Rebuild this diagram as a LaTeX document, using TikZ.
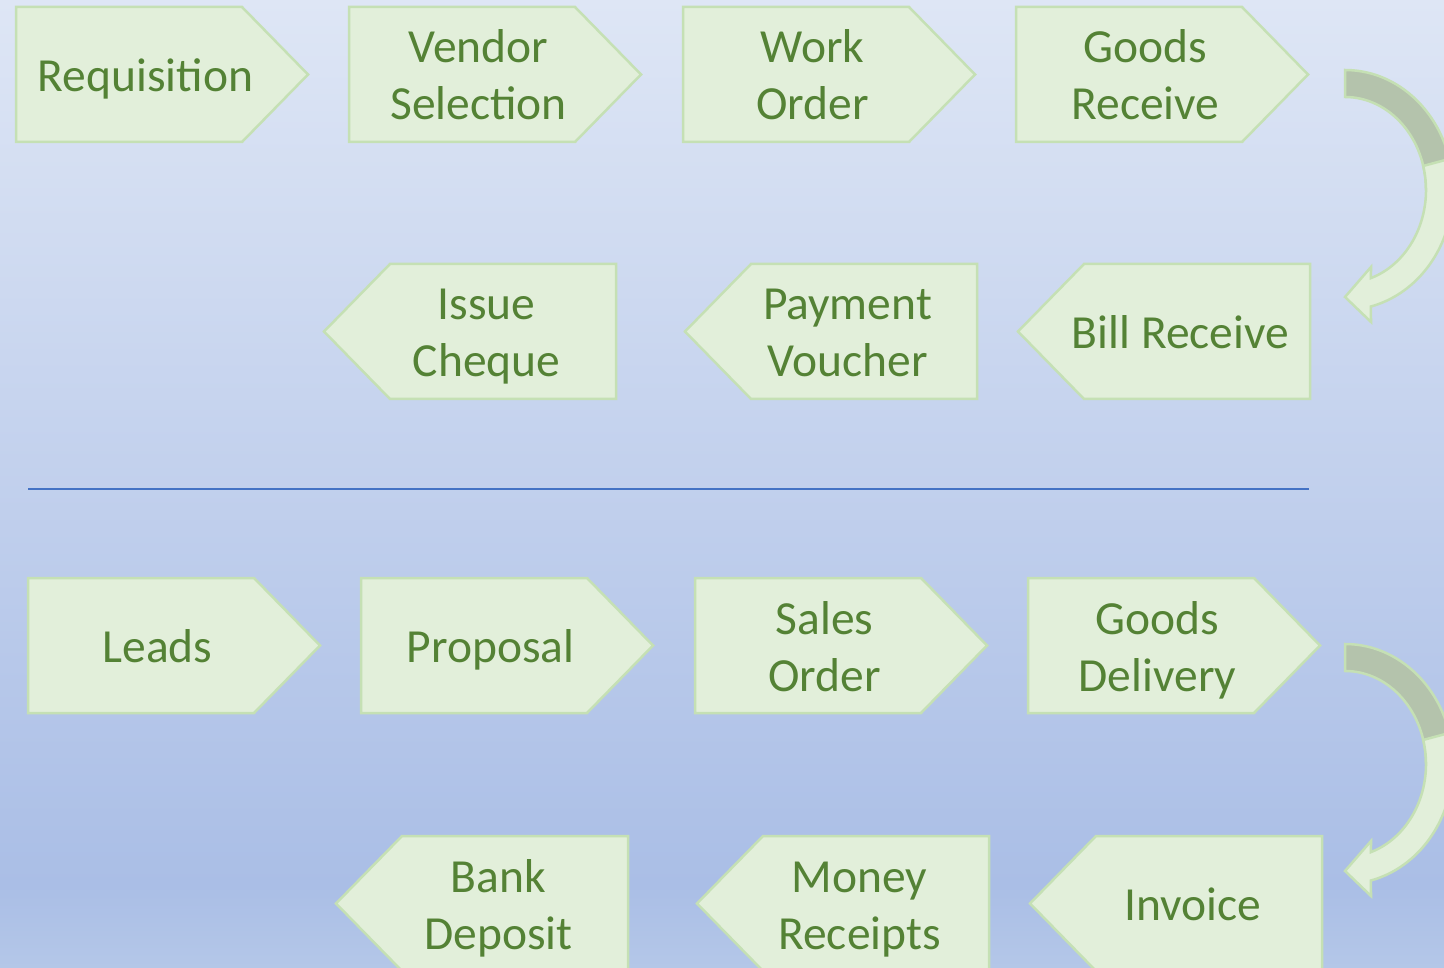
\documentclass[tikz,border=0pt]{standalone}
\usepackage{fontspec}
\setmainfont{Carlito}
\usetikzlibrary{calc}
\definecolor{bgtop}{HTML}{DEE6F5}
\definecolor{bgmid}{HTML}{AABEE6}
\definecolor{bgbot}{HTML}{B4C7E8}
\definecolor{boxfill}{HTML}{E2EFDA}
\definecolor{boxline}{HTML}{C5E0B4}
\definecolor{txtgreen}{HTML}{548235}
\definecolor{backband}{HTML}{B4C3AC}
\definecolor{sepblue}{HTML}{4472C4}
\newcommand\mystrut{\rule[-11.5pt]{0pt}{57pt}}
\tikzset{
  shp/.style={fill=boxfill,draw=boxline,line width=2.5pt,line join=miter},
  lbl/.style={text=txtgreen,font=\fontsize{47.5}{57}\selectfont,align=center,inner sep=0pt},
  bandfront/.style={fill=boxfill,draw=boxline,line width=2.5pt,line join=miter},
  bandback/.style={fill=backband,draw=boxline,line width=2.5pt,line join=miter},
  sepline/.style={draw=sepblue,line width=1.2pt},
}
% right-pointing box: left x, top y, name, text
\newcommand\boxR[4]{%
  \draw[shp] (#1,-#2) -- ++(226,0) -- ++(66,-67.5) -- ++(-66,-67.5) -- ++(-226,0) -- cycle;
  \node[lbl] (#3) at (#1+129.5,-#2-67.5) {#4};
}
% left-pointing box: tip x, top y, name, text
\newcommand\boxL[4]{%
  \draw[shp] (#1,-#2-67.5) -- ++(66,67.5) -- ++(226,0) -- ++(0,-135) -- ++(-226,0) -- cycle;
  \node[lbl] (#3) at (#1+162.5,-#2-67.5) {#4};
}
% curved arrow: origin x, origin y (top of tail), name of centre
\newcommand\curvarrow[3]{%
  \coordinate (#3) at (#1,-#2-120);
  \draw[bandback] ($(#3)+(90:108pt and 120pt)$) arc[start angle=90,end angle=0,x radius=108pt,y radius=120pt]
     -- ($(#3)+(0:81pt and 93pt)$) arc[start angle=0,end angle=90,x radius=81pt,y radius=93pt] -- cycle;
  \draw[bandfront] ($(#3)+(15:108pt and 120pt)$) arc[start angle=15,end angle=-76.1,x radius=108pt,y radius=120pt]
     -- ($(#3)+(26,-132)$) -- ($(#3)+(0,-107)$) -- ($(#3)+(26,-77)$)
     -- ($(#3)+(-71.3:81pt and 93pt)$) arc[start angle=-71.3,end angle=15,x radius=81pt,y radius=93pt] -- cycle;
}
\begin{document}
\begin{tikzpicture}[x=1pt,y=1pt]
\useasboundingbox (0,0) rectangle (1444,-968);
\shade[top color=bgtop,bottom color=bgmid] (0,0) rectangle (1444,-885);
\shade[top color=bgmid,bottom color=bgbot] (0,-885) rectangle (1444,-968);

% purchase cycle
\boxR{16}{7}{req}{\mystrut Requisition}
\boxR{349}{7}{ven}{\mystrut Vendor\\\mystrut Selection}
\boxR{683}{7}{wo}{\mystrut Work\\\mystrut Order}
\boxR{1016}{7}{gr}{\mystrut Goods\\\mystrut Receive}
\boxL{1018}{264}{br}{\mystrut Bill Receive}
\boxL{685}{264}{pv}{\mystrut Payment\\\mystrut Voucher}
\boxL{324}{264}{ic}{\mystrut Issue\\\mystrut Cheque}
\curvarrow{1345}{70}{ca1}

% separator
\coordinate (s1) at (28,-489);
\coordinate (s2) at (1309,-489);
\draw[sepline] (s1) -- (s2);

% sales cycle
\boxR{28}{578}{lead}{\mystrut Leads}
\boxR{361}{578}{prop}{\mystrut Proposal}
\boxR{695}{578}{so}{\mystrut Sales\\\mystrut Order}
\boxR{1028}{578}{gd}{\mystrut Goods\\\mystrut Delivery}
\boxL{1030}{836}{inv}{\mystrut Invoice}
\boxL{697}{836}{mr}{\mystrut Money\\\mystrut Receipts}
\boxL{336}{836}{bd}{\mystrut Bank\\\mystrut Deposit}
\curvarrow{1345}{644}{ca2}
\end{tikzpicture}
\end{document}
